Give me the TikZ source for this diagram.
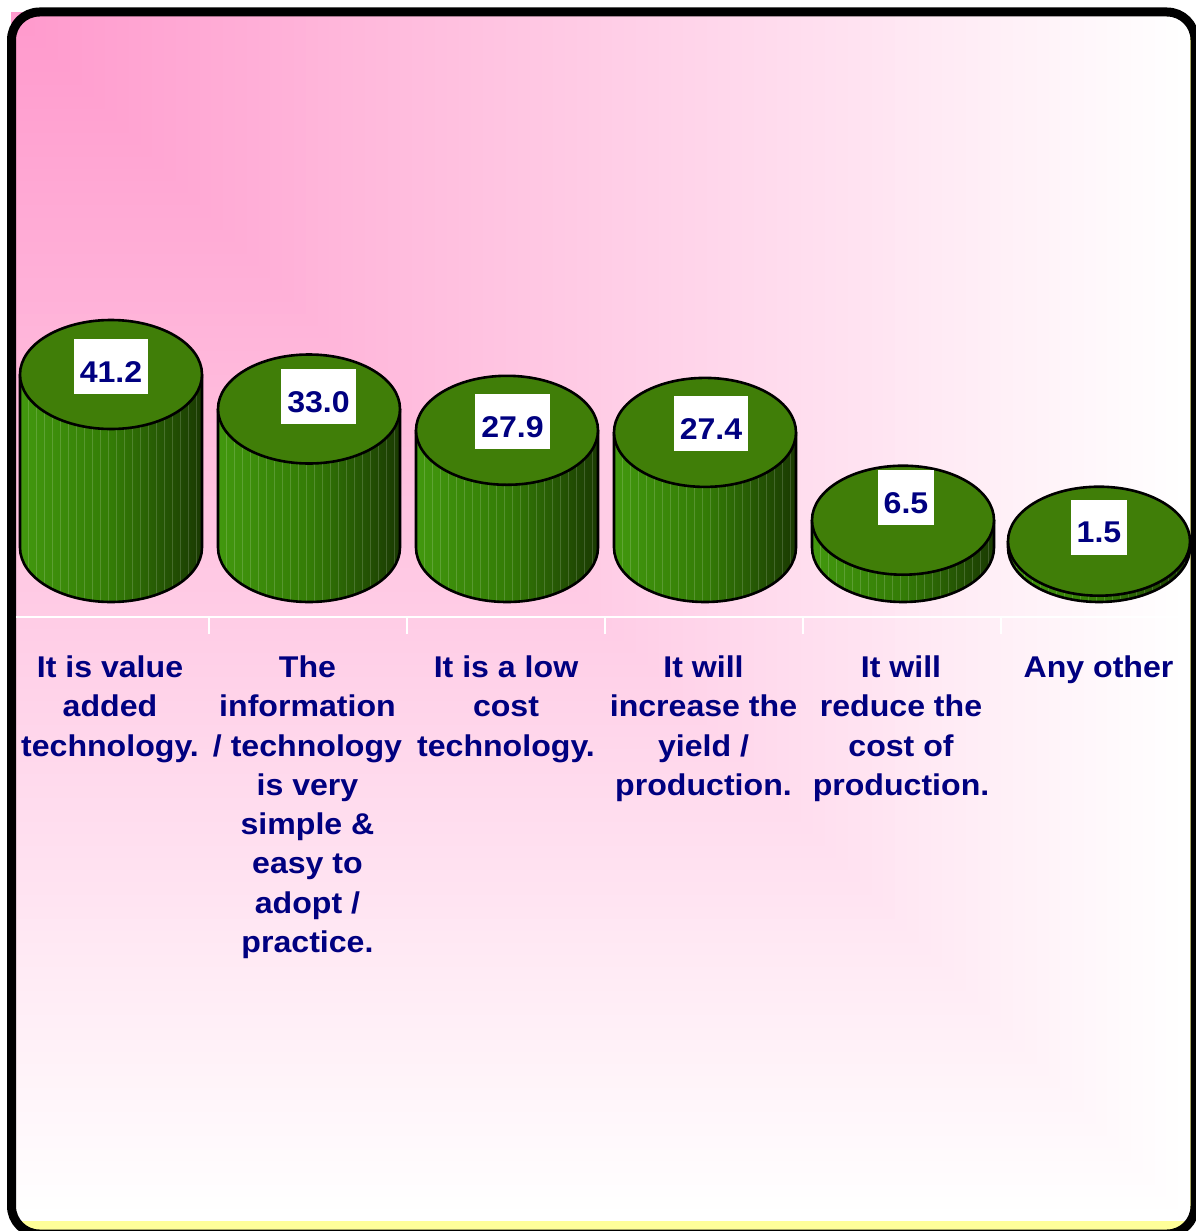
\documentclass[tikz,border=0pt]{standalone}
\usepackage{fontspec}
\setmainfont{Liberation Sans}[FakeStretch=1.07]
\definecolor{pinkbg}{RGB}{255,153,204}
\definecolor{navytext}{RGB}{0,0,128}
\definecolor{topgreen}{RGB}{64,126,8}
\definecolor{sideL}{RGB}{66,152,14}
\definecolor{sideM}{RGB}{52,124,6}
\definecolor{sideR}{RGB}{26,58,2}
\definecolor{frameyellow}{RGB}{255,255,153}
\begin{document}
\begin{tikzpicture}[x=1pt,y=-1pt,
  valbox/.style={fill=white, text=navytext, font=\fontsize{30}{36}\selectfont\bfseries,
    inner xsep=6pt, inner ysep=0pt, text height=43pt, text depth=12pt, anchor=base},
  catlabel/.style={text=navytext, font=\fontsize{30}{39.3}\selectfont\bfseries,
    align=center, anchor=north, inner sep=0pt},
  cylline/.style={draw=black, line width=2.6pt},
  sideshade/.style={left color=sideL, right color=sideR, middle color=sideM},
  axisline/.style={draw=white, line width=1.5pt},
  framestyle/.style={draw=black, line width=9pt, rounded corners=28pt}]

\useasboundingbox (0,0) rectangle (1196,1231);
\fill[white] (0,0) rectangle (1196,1231);

% frame fill (yellow shows at bottom)
\fill[frameyellow, rounded corners=28pt] (11.5,12) rectangle (1195,1234);

% rectangular gradient from top-left corner
\foreach \i in {100,99,...,1}{
  \pgfmathsetmacro{\p}{100-\i}
  \pgfmathsetmacro{\rx}{11+11.79*\i}
  \pgfmathsetmacro{\ry}{12+12.09*\i}
  \fill[pinkbg!\p!white] (11,12) rectangle (\rx,\ry);
}

% frame border
\draw[framestyle] (11.5,12) rectangle (1195,1234);

% category axis
\coordinate (axL) at (16,617);
\coordinate (axR) at (1190,617);
\draw[axisline] (axL) -- (axR);
\foreach \tx in {209,407,605,803,1001}{
  \coordinate (t\tx) at (\tx,617);
  \draw[axisline] (t\tx) -- ++(0,17);
}

% cylinders
\foreach \cx/\yt in {111/374.5, 309/409, 507/430.3, 705/432.4, 903/520.2, 1099/541.2}{
  \path[sideshade] (\cx-91,\yt) -- (\cx-91,547.5) arc[start angle=180, end angle=0, x radius=91, y radius=54.5] -- (\cx+91,\yt) -- cycle;
  \begin{scope}
    \clip (\cx-91,\yt) -- (\cx-91,547.5) arc[start angle=180, end angle=0, x radius=91, y radius=54.5] -- (\cx+91,\yt) -- cycle;
    \foreach \k in {1,...,22}{
      \draw[white, opacity=0.16, line width=0.7pt] (\cx-91+\k*8,\yt) -- (\cx-91+\k*8,610);
    }
  \end{scope}
  \draw[cylline] (\cx-91,\yt) -- (\cx-91,547.5) arc[start angle=180, end angle=0, x radius=91, y radius=54.5] -- (\cx+91,\yt);
  \draw[cylline, fill=topgreen] (\cx,\yt) ellipse[x radius=91, y radius=54.5];
}

% value labels
\node[valbox] (v1) at (111,382) {41.2};
\node[valbox] (v2) at (318.5,412) {33.0};
\node[valbox] (v3) at (512.5,437) {27.9};
\node[valbox] (v4) at (711,439) {27.4};
\node[valbox] (v5) at (906,513) {6.5};
\node[valbox] (v6) at (1099,542.7) {1.5};

% category labels
\node[catlabel] (c1) at (110,655.5) {It is value\\added\\technology.};
\node[catlabel] (c2) at (307.5,655.5) {The\\information\\/ technology\\is very\\simple \&\\easy to\\adopt /\\practice.};
\node[catlabel] (c3) at (506,655.5) {It is a low\\cost\\technology.};
\node[catlabel] (c4) at (703.5,655.5) {It will\\increase the\\yield /\\production.};
\node[catlabel] (c5) at (901,655.5) {It will\\reduce the\\cost of\\production.};
\node[catlabel] (c6) at (1098.5,655.5) {Any other};
\end{tikzpicture}
\end{document}
